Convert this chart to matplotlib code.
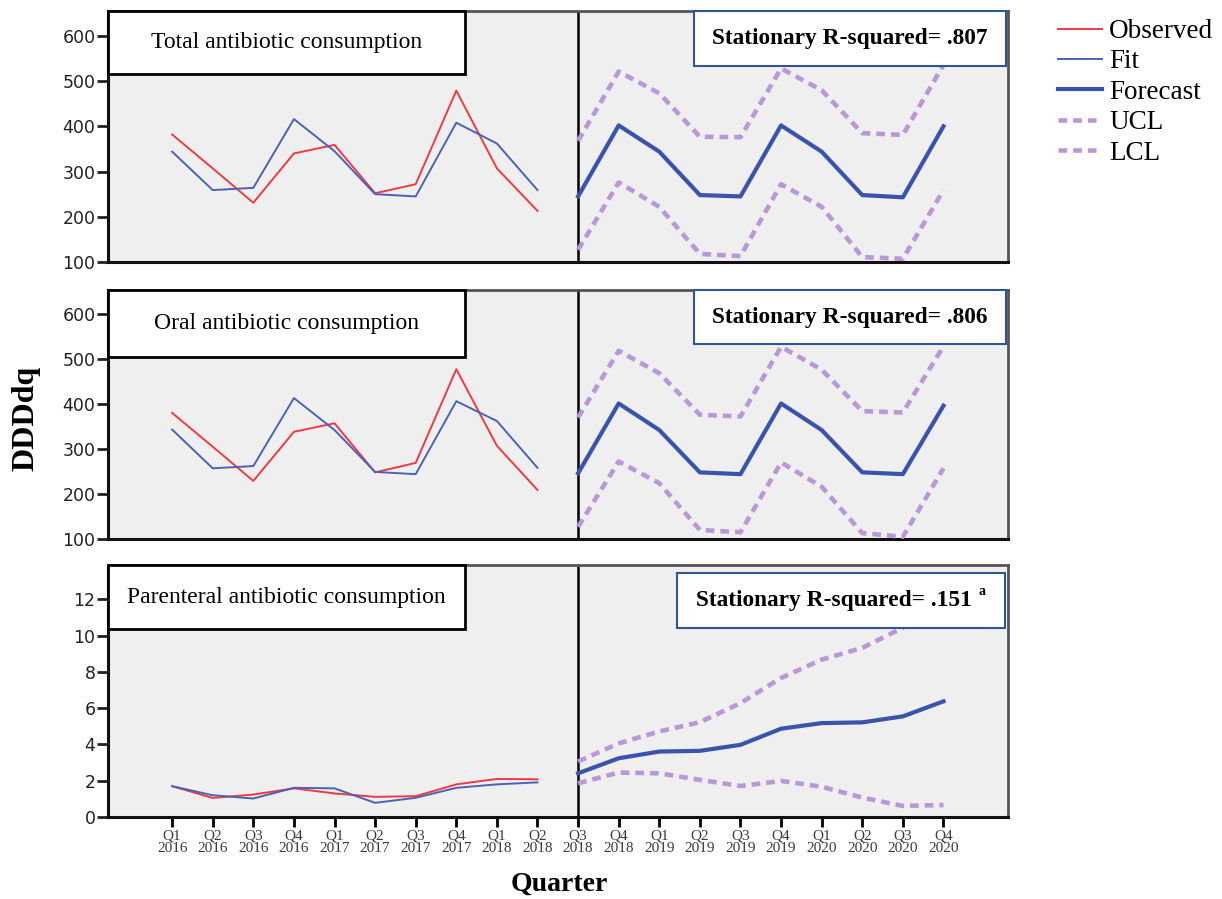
import matplotlib
matplotlib.use("Agg")
import matplotlib.pyplot as plt
from matplotlib.patches import Rectangle
from matplotlib.lines import Line2D

quarters = ["Q1\n2016", "Q2\n2016", "Q3\n2016", "Q4\n2016", "Q1\n2017", "Q2\n2017", "Q3\n2017",
            "Q4\n2017", "Q1\n2018", "Q2\n2018", "Q3\n2018", "Q4\n2018", "Q1\n2019", "Q2\n2019",
            "Q3\n2019", "Q4\n2019", "Q1\n2020", "Q2\n2020", "Q3\n2020", "Q4\n2020"]

# Panel 1: total
total_observed = [382, 307, 231, 340, 359, 252, 272, 479, 307, 213]
total_fit = [344, 259, 264, 416, 345, 250, 245, 408, 362, 259]
total_forecast = [245, 402, 344, 248, 245, 402, 344, 248, 243, 400]
total_ucl = [368, 521, 473, 377, 376, 528, 480, 385, 381, 536]
total_lcl = [127, 276, 222, 118, 113, 272, 222, 111, 107, 259]

# Panel 2: oral
oral_observed = [380, 305, 229, 338, 357, 248, 269, 477, 307, 209]
oral_fit = [343, 257, 262, 413, 342, 249, 244, 406, 362, 258]
oral_forecast = [246, 401, 342, 248, 244, 401, 342, 248, 244, 396]
oral_ucl = [370, 518, 468, 376, 372, 527, 476, 384, 381, 528]
oral_lcl = [127, 272, 224, 120, 115, 270, 216, 113, 105, 257]

# Panel 3: parenteral
par_observed = [1.70, 1.05, 1.24, 1.58, 1.30, 1.11, 1.15, 1.80, 2.10, 2.08]
par_fit = [1.70, 1.20, 1.02, 1.61, 1.58, 0.78, 1.06, 1.61, 1.80, 1.91]
par_forecast = [2.41, 3.24, 3.61, 3.65, 3.98, 4.87, 5.18, 5.22, 5.55, 6.38]
par_ucl = [3.06, 4.06, 4.72, 5.23, 6.28, 7.67, 8.68, 9.33, 10.44, 12.3]
par_lcl = [1.86, 2.45, 2.41, 2.05, 1.71, 1.99, 1.67, 1.07, 0.61, 0.66]

titles = ["Total antibiotic consumption", "Oral antibiotic consumption",
          "Parenteral antibiotic consumption"]
r2_labels = ["Stationary R-squared= .807", "Stationary R-squared= .806",
             "Stationary R-squared= .151"]

C_OBS = "#ee3a42"
C_FIT = "#4a62b5"
C_FC = "#3a54ae"
C_CL = "#b898d6"
BG = "#efefef"
SERIF = ["Liberation Serif", "DejaVu Serif"]

W, H = 1222, 899
fig = plt.figure(figsize=(W / 100, H / 100), dpi=100)


def fx(px):
    return px / W


def fy(py):
    return 1 - py / H


panels = [
    dict(top=11, bot=262, ylim=(100, 655), yticks=[100, 200, 300, 400, 500, 600],
         obs=total_observed, fit=total_fit, fc=total_forecast, ucl=total_ucl, lcl=total_lcl,
         lbox=(0.0, 0.397, 0.749, 1.0), rbox=(0.651, 0.998, 0.781, 1.0)),
    dict(top=290, bot=539, ylim=(100, 653), yticks=[100, 200, 300, 400, 500, 600],
         obs=oral_observed, fit=oral_fit, fc=oral_forecast, ucl=oral_ucl, lcl=oral_lcl,
         lbox=(0.0, 0.397, 0.731, 1.0), rbox=(0.651, 0.998, 0.783, 1.0)),
    dict(top=565, bot=817, ylim=(0, 13.9), yticks=[0, 2, 4, 6, 8, 10, 12],
         obs=par_observed, fit=par_fit, fc=par_forecast, ucl=par_ucl, lcl=par_lcl,
         lbox=(0.0, 0.397, 0.746, 1.0), rbox=(0.632, 0.997, 0.749, 0.968)),
]

left_px, right_px = 108, 1008
x_hist = list(range(10))
x_fc = list(range(10, 20))
CL_STYLE = (0, (1.9, 1.3))

for i, p in enumerate(panels):
    ax = fig.add_axes([fx(left_px), fy(p["bot"]), fx(right_px - left_px),
                       (p["bot"] - p["top"]) / H])
    ax.set_facecolor(BG)
    ax.set_xlim(-1.58, 20.59)
    ax.set_ylim(*p["ylim"])
    ax.axvline(10, color="black", lw=1.8, zorder=2)
    ax.plot(x_hist, p["obs"], color=C_OBS, lw=1.4, zorder=4)
    ax.plot(x_hist, p["fit"], color=C_FIT, lw=1.4, zorder=4)
    ax.plot(x_fc, p["ucl"], color=C_CL, lw=3.3, linestyle=CL_STYLE, zorder=3)
    ax.plot(x_fc, p["lcl"], color=C_CL, lw=3.3, linestyle=CL_STYLE, zorder=3)
    ax.plot(x_fc, p["fc"], color=C_FC, lw=3.0, zorder=4)

    ax.set_yticks(p["yticks"])
    ax.tick_params(axis="y", direction="out", length=8, width=2, labelsize=12.5,
                   pad=1, colors="#222222")
    for s in ["left", "bottom"]:
        ax.spines[s].set_linewidth(2.2)
        ax.spines[s].set_color("#111111")
    for s in ["top", "right"]:
        ax.spines[s].set_linewidth(2.0)
        ax.spines[s].set_color("#555555")
    if i < 2:
        ax.set_xticks([])
    else:
        ax.set_xticks(range(20))
        ax.set_xticklabels(quarters, fontsize=11, family=SERIF, linespacing=1.0,
                           color="#3a3a3a")
        ax.tick_params(axis="x", direction="out", length=7, width=2, pad=2)

    # left title box
    x0, x1, y0, y1 = p["lbox"]
    ax.add_patch(Rectangle((x0, y0), x1 - x0, y1 - y0, transform=ax.transAxes,
                           facecolor="white", edgecolor="black", lw=2, zorder=6,
                           clip_on=False))
    ax.text((x0 + x1) / 2, (y0 + y1) / 2, titles[i], transform=ax.transAxes,
            ha="center", va="center", fontsize=17, family=SERIF, zorder=7)
    # right R2 box
    x0, x1, y0, y1 = p["rbox"]
    ax.add_patch(Rectangle((x0, y0), x1 - x0, y1 - y0, transform=ax.transAxes,
                           facecolor="white", edgecolor="#2f5597", lw=1.5, zorder=6,
                           clip_on=False))
    if i < 2:
        ax.text((x0 + x1) / 2, (y0 + y1) / 2, r2_labels[i], transform=ax.transAxes,
                ha="center", va="center", fontsize=16.8, family=SERIF,
                fontweight="bold", zorder=7)
    else:
        xc = (x0 + x1) / 2 - 0.008
        ax.text(xc, (y0 + y1) / 2, r2_labels[i], transform=ax.transAxes,
                ha="center", va="center", fontsize=16.8, family=SERIF,
                fontweight="bold", zorder=7)
        ax.text(0.971, (y0 + y1) / 2 + 0.035, "a", transform=ax.transAxes,
                ha="center", va="center", fontsize=10, family=SERIF,
                fontweight="bold", zorder=7)

fig.text(fx(26), fy(418), "DDDdq", rotation=90, ha="center", va="center",
         fontsize=23, fontweight="bold", family=SERIF)
fig.text(fx(559), fy(884), "Quarter", ha="center", va="center",
         fontsize=20, fontweight="bold", family=SERIF)

handles = [
    Line2D([], [], color=C_OBS, lw=1.4),
    Line2D([], [], color=C_FIT, lw=1.4),
    Line2D([], [], color=C_FC, lw=3.0),
    Line2D([], [], color=C_CL, lw=3.3, linestyle=CL_STYLE),
    Line2D([], [], color=C_CL, lw=3.3, linestyle=CL_STYLE),
]
fig.legend(handles, ["Observed", "Fit", "Forecast", "UCL", "LCL"],
           loc="upper left", bbox_to_anchor=(fx(1058), fy(19)), frameon=False,
           prop={"family": SERIF, "size": 19.5}, handlelength=1.63, handletextpad=0.26,
           labelspacing=0.2, borderaxespad=0, borderpad=0)

fig.savefig("out.png", dpi=100, facecolor="white")
